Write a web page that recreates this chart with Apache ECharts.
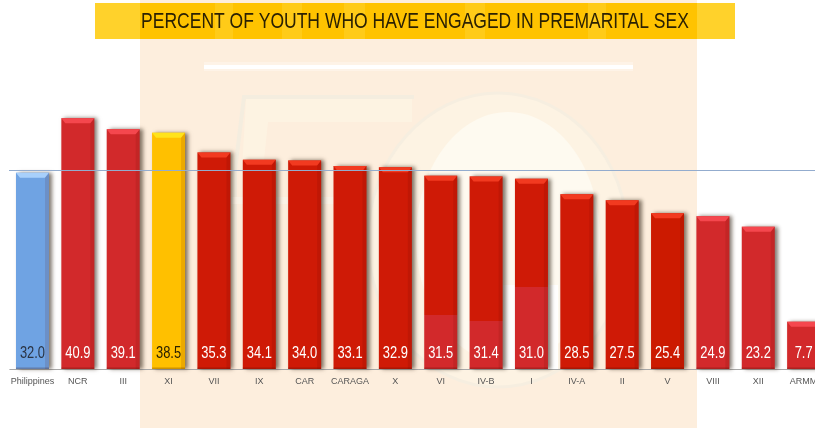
<!DOCTYPE html>
<html><head><meta charset="utf-8">
<style>html,body{margin:0;padding:0;background:#fff;width:815px;height:428px;overflow:hidden}#c{width:845px;height:428px}</style>
<script src="https://cdn.jsdelivr.net/npm/echarts@6/dist/echarts.min.js"></script>
</head><body><div id="c"></div>
<script>
const titleText = 'PERCENT OF YOUTH WHO HAVE ENGAGED IN PREMARITAL SEX';
const categories = ['Philippines','NCR','III','XI','VII','IX','CAR','CARAGA','X','VI','IV-B','I','IV-A','II','V','VIII','XII','ARMM'];
const values = [32.0,40.9,39.1,38.5,35.3,34.1,34.0,33.1,32.9,31.5,31.4,31.0,28.5,27.5,25.4,24.9,23.2,7.7];
const referenceLine = 32.35;
const bodyColors = ['#6fa3e3','#d2292b','#d2292b','#ffc000','#cf1a06','#cf1a06','#cf1a06','#cf1a06','#cf1a06','#cf1a06','#cf1a06','#cf1a06','#cf1a06','#cf1a06','#cc1a00','#d2292b','#d2292b','#d2292b'];
const bevelColors = ['#a8d0fb','#f5474e','#f5474e','#ffe31a','#f23a20','#f23a20','#f23a20','#f23a20','#f23a20','#f23a20','#f23a20','#f23a20','#f23a20','#f23a20','#f23a20','#f5474e','#f5474e','#f5474e'];
const labelColors = ['#2b3444','#fff','#fff','#2a2000','#fff','#fff','#fff','#fff','#fff','#fff','#fff','#fff','#fff','#fff','#fff','#fff','#fff','#fff'];
const lighterFrom = {9:0.72,10:0.75,11:0.57};

const narrow = '"Liberation Sans",Arial,sans-serif';
const backdrop = [
  {type:'rect',shape:{x:140,y:0,width:557,height:428},style:{fill:'#fdeedd'}},
  {type:'rect',shape:{x:204,y:62,width:429,height:9},style:{fill:'#fef3e7'}},
  {type:'rect',shape:{x:204,y:65,width:429,height:4},style:{fill:'#ffffff'}},
  {type:'ellipse',shape:{cx:498,cy:240,rx:130,ry:147},style:{fill:'#fdf3e3',stroke:'#f6eee0',lineWidth:3}},
  {type:'ellipse',shape:{cx:508,cy:238,rx:92,ry:126},style:{fill:'#fefaf0'}},
  {type:'polyline',shape:{points:[[414,97],[244,97],[235,170],[235,330]]},style:{fill:null,stroke:'#f4eddf',lineWidth:4}},
  {type:'polygon',shape:{points:[[246,99],[412,99],[412,122],[268,122],[264,160],[242,170]]},style:{fill:'#fdf3e2'}},
  {type:'rect',shape:{x:225,y:197,width:110,height:7},style:{fill:'#fbf3e6'}},
  {type:'rect',shape:{x:503,y:285,width:55,height:85},style:{fill:'#ffffff'}}
];
const band = [
  {type:'rect',shape:{x:95,y:3,width:640,height:36},style:{fill:'#ffd22b'}},
  {type:'rect',shape:{x:140,y:3,width:557,height:36},style:{fill:'#ffc300'}},
  {type:'rect',shape:{x:215,y:3,width:18,height:36},style:{fill:'#ffcb18'}},
  {type:'rect',shape:{x:282,y:3,width:20,height:36},style:{fill:'#ffcb18'}},
  {type:'rect',shape:{x:344,y:3,width:21,height:36},style:{fill:'#ffcb18'}},
  {type:'rect',shape:{x:465,y:3,width:20,height:36},style:{fill:'#ffcb18'}},
  {type:'rect',shape:{x:588,y:3,width:18,height:36},style:{fill:'#ffcb18'}}
];
function z(list, zv){return list.map(e=>Object.assign({silent:true,z:zv},e));}

function fillFor(i){
  if(lighterFrom[i]===undefined) return bodyColors[i];
  const f=lighterFrom[i];
  return {type:'linear',x:0,y:0,x2:0,y2:1,colorStops:[
    {offset:0,color:bodyColors[i]},{offset:f,color:bodyColors[i]},
    {offset:f,color:'#d2292b'},{offset:1,color:'#d2292b'}]};
}

const chart = echarts.init(document.getElementById('c'),null,{renderer:'canvas'});
chart.setOption({
  animation:false,
  backgroundColor:'#fff',
  graphic:{elements:z(backdrop,-2).concat(z(band,4)).concat([
    {type:'text',silent:true,z:8,x:415,y:21.7,scaleX:0.814,
     style:{text:titleText,textAlign:'center',textVerticalAlign:'middle',
       font:'21.5px '+narrow,fill:'#2b2103'}}
  ])},
  grid:{left:9.8,top:93,width:816.5,height:276,containLabel:false},
  xAxis:{type:'category',data:categories,
    axisLine:{lineStyle:{color:'#a8a8a8',width:1}},axisTick:{show:false},
    axisLabel:{interval:0,margin:8,fontFamily:narrow,fontSize:9,color:'#555'}},
  yAxis:{type:'value',min:0,max:45,show:false,splitLine:{show:false}},
  series:[
    {type:'bar',barWidth:33,z:2,
      data:values.map((v,i)=>({value:v,itemStyle:{color:fillFor(i)}})),
      itemStyle:{shadowColor:'rgba(50,35,20,0.6)',shadowBlur:4,shadowOffsetX:3,shadowOffsetY:0},
      markLine:{silent:true,symbol:'none',z:5,label:{show:false},
        lineStyle:{color:'#93acce',width:1.2,type:'solid'},
        data:[[{x:9,yAxis:referenceLine},{x:815,yAxis:referenceLine}]]}
    },
    {type:'custom',z:3,silent:true,clip:false,data:values.map((v,i)=>[i,v]),encode:{x:0,y:1},
      renderItem(p,api){
        const c=api.coord([api.value(0),api.value(1)]),i=p.dataIndex;
        const base=api.coord([api.value(0),0]);
        const w=33,l=c[0]-w/2,r=c[0]+w/2,t=c[1],h=5,s=4;
        return {type:'group',children:[
          {type:'polygon',shape:{points:[[l,t],[r,t],[r-s,t+h],[l+s,t+h]]},style:{fill:bevelColors[i]}},
          {type:'polygon',shape:{points:[[r,t],[r-s,t+h],[r-s,base[1]],[r,base[1]]]},style:{fill:'rgba(90,10,0,0.12)'}},
          {type:'rect',shape:{x:l,y:base[1]-1.5,width:w,height:1.5},style:{fill:'rgba(60,10,0,0.25)'}},
          {type:'text',x:c[0],y:353.3,scaleX:0.76,style:{
            text:api.value(1).toFixed(1),textAlign:'center',textVerticalAlign:'middle',
            font:'17px '+narrow,fill:labelColors[i]}}
        ]};
      }}
  ]
});
</script></body></html>
